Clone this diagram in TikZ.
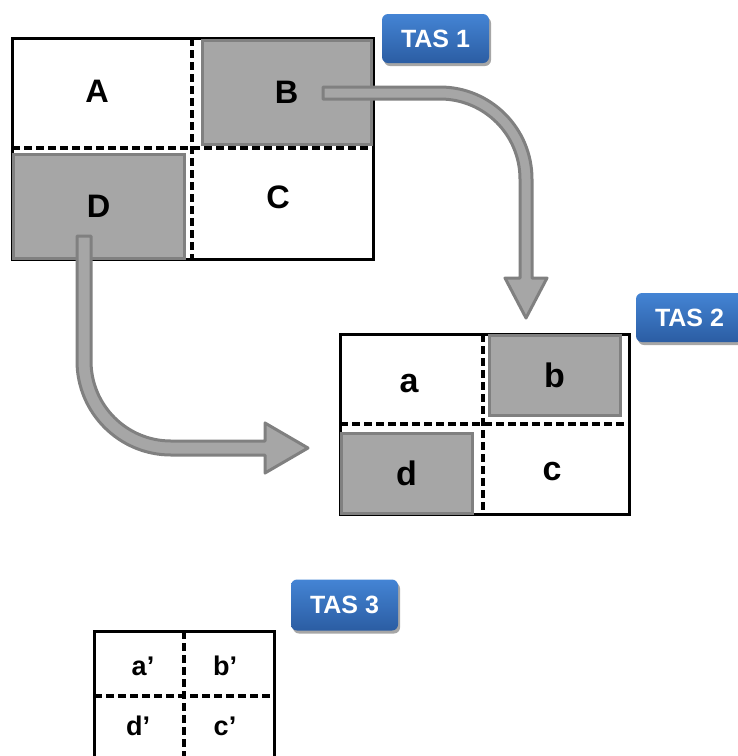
\documentclass[tikz,border=0pt]{standalone}
\usepackage{fontspec}
\setmainfont{Liberation Sans}
\usetikzlibrary{shadows,calc}
\definecolor{grayfill}{HTML}{A6A6A6}
\definecolor{grayline}{HTML}{808080}
\definecolor{tastop}{HTML}{4484D4}
\definecolor{tasbot}{HTML}{2B5DA3}
\begin{document}
\begin{tikzpicture}[x=1pt,y=-1pt,
  frame/.style={draw=black, line width=3pt},
  divider/.style={draw=black, line width=3.3pt, dash pattern=on 8pt off 4pt},
  graybox/.style={draw=grayline, fill=grayfill, line width=3pt, inner sep=0pt},
  bigletter/.style={font=\fontsize{32.5}{38}\selectfont\bfseries, inner sep=0pt},
  smallletter/.style={font=\fontsize{34}{40}\selectfont\bfseries, inner sep=0pt},
  primeletter/.style={font=\fontsize{27}{32}\selectfont\bfseries, inner sep=0pt},
  blockarrow/.style={draw=grayline, fill=grayfill, line width=3pt, line join=round},
  tastag/.style={rounded corners=6pt, top color=tastop, bottom color=tasbot, draw=none,
    text=white, font=\fontsize{25}{29}\selectfont\bfseries, minimum width=107pt,
    minimum height=49pt, inner sep=0pt,
    drop shadow={shadow xshift=2pt, shadow yshift=-3pt, opacity=0.35, fill=black}}
]
\clip (0,0) rectangle (738,756);

% ---------- TAS 1 ----------
\draw[frame] (12,38) rectangle (373,259);
\draw[divider] (192,38) -- (192,259);
\draw[divider] (12,148) -- (373,148);
\node[graybox, bigletter, minimum width=169pt, minimum height=104pt] (B) at (286.5,92) {B};
\node[graybox, bigletter, minimum width=171pt, minimum height=104pt] (D) at (98.5,206) {D};
\node[bigletter, anchor=base] (A) at (97,102) {A};
\node[bigletter, anchor=base] (C) at (278,208) {C};

% ---------- TAS 2 ----------
\draw[frame] (340,334) rectangle (629,514);
\draw[divider] (483,334) -- (483,514);
\draw[divider] (340,424) -- (629,424);
\node[graybox, smallletter, minimum width=131pt, minimum height=80pt] (b) at (554.5,375) {b};
\node[graybox, smallletter, minimum width=131pt, minimum height=80pt] (d) at (406.5,473) {d};
\node[smallletter, anchor=base] (a) at (409,392) {a};
\node[smallletter, anchor=base] (c) at (552,480) {c};

% ---------- TAS 3 ----------
\draw[frame] (94,631) rectangle (274,800);
\draw[divider] (184,631) -- (184,800);
\draw[divider] (94,696) -- (274,696);
\node[primeletter, anchor=base] (a3) at (143,675) {a’};
\node[primeletter, anchor=base] (b3) at (225,675) {b’};
\node[primeletter, anchor=base] (d3) at (138,735) {d’};
\node[primeletter, anchor=base] (c3) at (225,735) {c’};

% ---------- arrows ----------
\coordinate (Bout) at ($(B.center)+(36.5,1)$);
\draw[blockarrow] ($(Bout)+(0,-6)$) -- ++(117,0)
  arc[start angle=-90, end angle=0, radius=92] -- ++(0,99)
  -- ++(15,0) -- ++(-21,40) -- ++(-21,-40) -- ++(15,0)
  -- ++(0,-99) arc[start angle=0, end angle=-90, radius=80]
  -- ++(-117,0) -- cycle;

\coordinate (Dout) at ($(D.center)+(-14.5,30)$);
\draw[blockarrow] ($(Dout)+(-7,0)$) -- ++(0,125)
  arc[start angle=180, end angle=90, radius=94] -- ++(94,0)
  -- ++(0,18) -- ++(43,-25) -- ++(-43,-25) -- ++(0,18)
  -- ++(-94,0) arc[start angle=90, end angle=180, radius=80]
  -- ++(0,-125) -- cycle;

% ---------- tags ----------
\node[tastag] (tas1) at (435.5,38.5) {TAS 1};
\node[tastag] (tas2) at (689.5,317.5) {TAS 2};
\node[tastag, minimum height=51pt] (tas3) at (344.5,605) {TAS 3};
\end{tikzpicture}
\end{document}
